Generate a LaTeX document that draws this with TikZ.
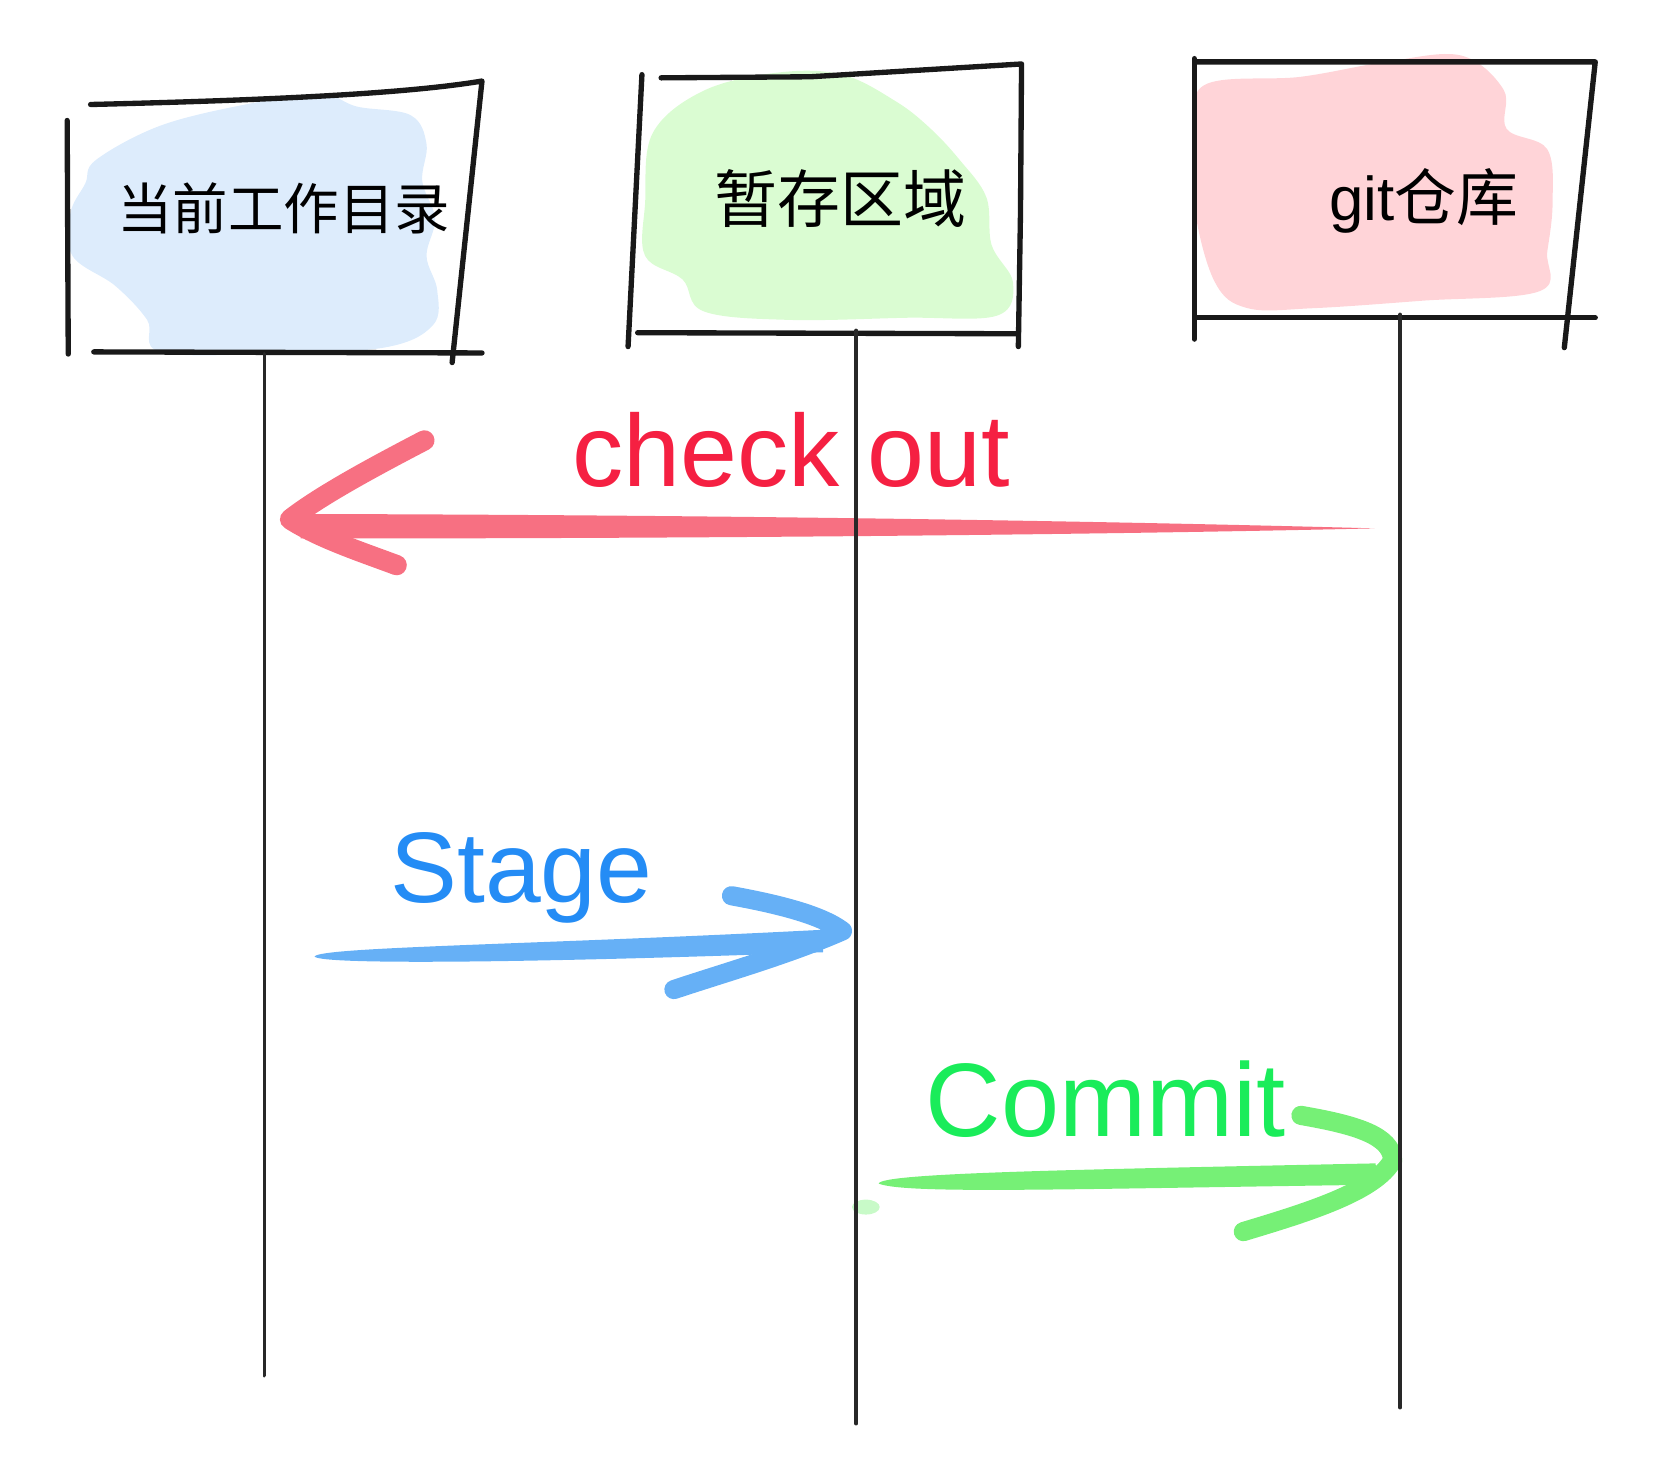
\documentclass[tikz,border=0pt]{standalone}
\usepackage{fontspec}
\setmainfont{Liberation Sans}
\newfontfamily\cjk{Noto Sans CJK SC}
\definecolor{pen}{RGB}{25,25,25}
\definecolor{lifec}{RGB}{40,40,40}
\definecolor{redtext}{RGB}{245,32,66}
\definecolor{redarrow}{RGB}{247,112,130}
\definecolor{bluetext}{RGB}{36,140,245}
\definecolor{bluearrow}{RGB}{102,176,246}
\definecolor{greentext}{RGB}{26,236,90}
\definecolor{greenarrow}{RGB}{118,240,118}
\definecolor{greenfaint}{RGB}{200,250,200}
\definecolor{bluefill}{RGB}{221,236,252}
\definecolor{greenfill}{RGB}{218,252,210}
\definecolor{redfill}{RGB}{255,212,216}
\tikzset{
  boxline/.style={draw=pen,line width=5pt,line cap=round,line join=round},
  lifeline/.style={draw=lifec,line width=3.6pt,line cap=round},
  brush/.style={line width=19pt,line cap=round,line join=round},
  lbl/.style={inner sep=0pt,anchor=base},
}
\begin{document}
\begin{tikzpicture}[x=1pt,y=-1pt]
\useasboundingbox (0,0) rectangle (1568,1380.4);
% ---- colour blobs ----
\fill[bluefill] plot[smooth cycle,tension=0.6] coordinates {(90,150) (150,118) (230,98) (300,88) (335,100) (385,108) (400,135) (396,170) (408,205) (400,240) (410,272) (406,305) (360,326) (250,332) (150,330) (138,300) (108,268) (68,240) (66,200) (80,172)};
\fill[greenfill] plot[smooth cycle,tension=0.6] coordinates {(612,125) (660,85) (730,68) (790,70) (840,95) (872,120) (900,150) (925,185) (930,230) (950,265) (935,296) (850,298) (740,300) (660,292) (640,262) (605,240) (605,190)};
\fill[redfill] plot[smooth cycle,tension=0.6] coordinates {(1129,80) (1220,72) (1300,58) (1370,52) (1410,84) (1413,121) (1451,140) (1456,190) (1451,236) (1444,273) (1334,282) (1232,289) (1170,289) (1139,264) (1120,193) (1122,131)};
% ---- boxes ----
\coordinate (b1tl) at (85,98);  \coordinate (b1tr) at (452,76);
\coordinate (b1br) at (424,340); \coordinate (b1bl) at (88,330);
\draw[boxline] (63,113) -- (64,332);
\draw[boxline] (b1tl) .. controls (250,94) and (380,88) .. (b1tr) -- (b1br);
\draw[boxline] (b1bl) -- (452,331);
\coordinate (b2tl) at (620,73); \coordinate (b2tr) at (958,60);
\coordinate (b2br) at (955,325); \coordinate (b2bl) at (598,312);
\draw[boxline] (602,70) -- (589,325);
\draw[boxline] (b2tl) -- (760,72) -- (b2tr) -- (957,200) -- (b2br);
\draw[boxline] (b2bl) -- (955,313);
\coordinate (b3tl) at (1121,58); \coordinate (b3tr) at (1496,58);
\coordinate (b3br) at (1467,326); \coordinate (b3bl) at (1122,298);
\draw[boxline] (1120,55) -- (1120,318);
\draw[boxline] (b3tl) -- (b3tr) -- (b3br);
\draw[boxline] (b3bl) -- (1496,298);
% ---- box labels ----
\node[inner sep=0pt] (wd) at (266,195) {\cjk\fontsize{52}{56}\selectfont 当前工作目录};
\node[inner sep=0pt] (st) at (788,186) {\cjk\fontsize{59}{63}\selectfont 暂存区域};
\node[inner sep=0pt] (rp) at (1335,188) {\fontsize{58}{62}\selectfont git{\cjk 仓库}};
% ---- lifelines ----
\coordinate (l1t) at (248,332); \coordinate (l1b) at (248,1290);
\coordinate (l2t) at (803,310); \coordinate (l2b) at (803,1335);
\coordinate (l3t) at (1313,295); \coordinate (l3b) at (1313,1320);
% ---- checkout arrow (red) ----
\coordinate (coV) at (272,487);
\coordinate (coU) at (398,413);
\coordinate (coL) at (372,530);
\coordinate (coE) at (1289,495.5);
\fill[redarrow] (282,482) .. controls (700,483) and (1050,489) .. (coE) .. controls (1050,501) and (700,505) .. (282,505) -- cycle;
\draw[brush,redarrow] (coU) .. controls (350,438) and (300,465) .. (coV) .. controls (300,505) and (340,518) .. (coL);
% ---- stage arrow (blue) ----
\coordinate (sgS) at (295,897);
\coordinate (sgV) at (790,873);
\coordinate (sgU) at (686,840);
\coordinate (sgL) at (632,928);
\fill[bluearrow] (sgS) .. controls (300,888) and (500,886) .. (770,872) -- (772,893) .. controls (500,903) and (300,905) .. (sgS) -- cycle;
\draw[brush,bluearrow,line width=18pt] (sgU) .. controls (730,848) and (770,858) .. (sgV) .. controls (740,895) and (680,912) .. (sgL);
% ---- commit arrow (green) ----
\coordinate (cmS) at (824,1110);
\coordinate (cmV) at (1306,1088);
\coordinate (cmU) at (1220,1046);
\coordinate (cmL) at (1166,1155);
\fill[greenfaint] (812,1132) ellipse [x radius=13pt,y radius=7pt];
\fill[greenarrow] (cmS) .. controls (826,1100) and (1000,1097) .. (1290,1091) -- (1292,1111) .. controls (1000,1115) and (850,1120) .. (cmS) -- cycle;
\draw[brush,greenarrow,line width=18pt] (cmU) .. controls (1272,1055) and (1305,1065) .. (cmV) .. controls (1290,1118) and (1222,1138) .. (cmL);
% lifelines drawn over
\draw[lifeline] (l1t) -- (l1b);
\draw[lifeline] (l2t) -- (l2b);
\draw[lifeline] (l3t) -- (l3b);
% ---- arrow labels ----
\node[lbl,text=redtext] (coT) at (742,456) {\fontsize{96}{100}\selectfont check out};
\node[lbl,text=bluetext] (sgT) at (489,846) {\fontsize{94}{98}\selectfont Stage};
\node[lbl,text=greentext] (cmT) at (1037,1066) {\fontsize{98}{102}\selectfont Commit};
\end{tikzpicture}
\end{document}
